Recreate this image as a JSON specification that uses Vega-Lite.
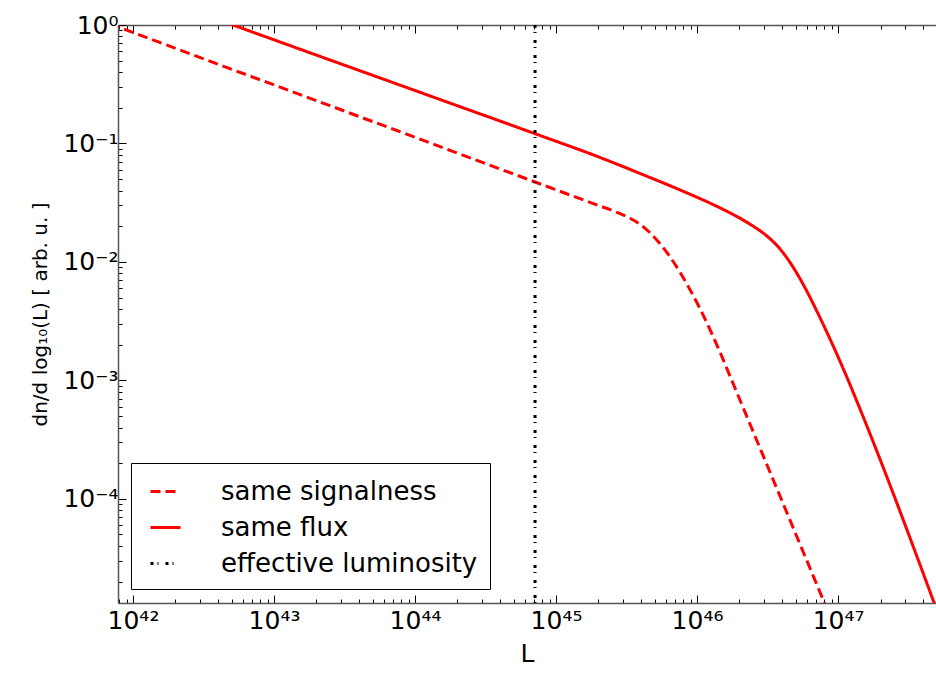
{
  "$schema": "https://vega.github.io/schema/vega-lite/v6.json",
  "width": 818,
  "height": 578,
  "autosize": {"type": "none"},
  "padding": {"left": 118, "top": 25, "right": 0, "bottom": 70},
  "background": "white",
  "config": {
    "view": {"stroke": null},
    "font": "DejaVu Sans",
    "legend": {
      "orient": "none",
      "legendX": 13,
      "legendY": 438,
      "labelFontSize": 26,
      "labelFont": "DejaVu Sans",
      "labelColor": "black",
      "labelLimit": 600,
      "symbolType": "stroke",
      "symbolSize": 900,
      "symbolStrokeWidth": 3,
      "symbolOffset": 6,
      "strokeColor": "black",
      "fillColor": "white",
      "padding": 12,
      "rowPadding": 6,
      "labelOffset": 39,
      "cornerRadius": 0
    }
  },
  "datasets": {
    "curves": [
      {"series": "same signalness", "L": 6.87e41, "dndl": 1.022},
      {"series": "same signalness", "L": 8.22e41, "dndl": 0.943},
      {"series": "same signalness", "L": 2.495e43, "dndl": 0.2084},
      {"series": "same signalness", "L": 1.77e44, "dndl": 0.0875},
      {"series": "same signalness", "L": 7.10e44, "dndl": 0.0473},
      {"series": "same signalness", "L": 1.742e45, "dndl": 0.03177},
      {"series": "same signalness", "L": 2.708e45, "dndl": 0.02616},
      {"series": "same signalness", "L": 3.348e45, "dndl": 0.02335},
      {"series": "same signalness", "L": 3.943e45, "dndl": 0.02078},
      {"series": "same signalness", "L": 4.642e45, "dndl": 0.01762},
      {"series": "same signalness", "L": 5.465e45, "dndl": 0.01423},
      {"series": "same signalness", "L": 6.434e45, "dndl": 0.01105},
      {"series": "same signalness", "L": 7.575e45, "dndl": 0.008176},
      {"series": "same signalness", "L": 8.920e45, "dndl": 0.005821},
      {"series": "same signalness", "L": 1.0503e46, "dndl": 0.004023},
      {"series": "same signalness", "L": 1.2366e46, "dndl": 0.002675},
      {"series": "same signalness", "L": 1.456e46, "dndl": 0.001728},
      {"series": "same signalness", "L": 1.714e46, "dndl": 0.001084},
      {"series": "same signalness", "L": 2.797e46, "dndl": 0.0002676},
      {"series": "same signalness", "L": 8.22e46, "dndl": 0.00001227},
      {"series": "same flux", "L": 4.14e42, "dndl": 1.096},
      {"series": "same flux", "L": 5.12e42, "dndl": 1.0},
      {"series": "same flux", "L": 1.503e44, "dndl": 0.2351},
      {"series": "same flux", "L": 7.453e44, "dndl": 0.1184},
      {"series": "same flux", "L": 2.052e45, "dndl": 0.07616},
      {"series": "same flux", "L": 3.943e45, "dndl": 0.05582},
      {"series": "same flux", "L": 7.575e45, "dndl": 0.04050},
      {"series": "same flux", "L": 9.678e45, "dndl": 0.03573},
      {"series": "same flux", "L": 1.2366e46, "dndl": 0.03134},
      {"series": "same flux", "L": 1.580e46, "dndl": 0.02724},
      {"series": "same flux", "L": 2.018e46, "dndl": 0.02335},
      {"series": "same flux", "L": 2.496e46, "dndl": 0.02007},
      {"series": "same flux", "L": 3.137e46, "dndl": 0.01651},
      {"series": "same flux", "L": 3.694e46, "dndl": 0.01373},
      {"series": "same flux", "L": 4.348e46, "dndl": 0.01077},
      {"series": "same flux", "L": 5.121e46, "dndl": 0.007963},
      {"series": "same flux", "L": 6.028e46, "dndl": 0.005616},
      {"series": "same flux", "L": 7.098e46, "dndl": 0.003807},
      {"series": "same flux", "L": 8.356e46, "dndl": 0.002531},
      {"series": "same flux", "L": 9.838e46, "dndl": 0.001651},
      {"series": "same flux", "L": 1.1582e47, "dndl": 0.001056},
      {"series": "same flux", "L": 1.364e47, "dndl": 0.0006598},
      {"series": "same flux", "L": 5.289e47, "dndl": 0.00000971}
    ],
    "marker": [
      {"series": "effective luminosity", "L": 7.1e44}
    ]
  },
  "layer": [
    {
      "data": {"name": "curves"},
      "mark": {"type": "line", "strokeWidth": 3, "clip": true, "interpolate": "monotone"},
      "encoding": {
        "x": {
          "field": "L", "type": "quantitative",
          "scale": {"type": "log", "domain": [7.83e41, 4.95e47], "nice": false, "zero": false},
          "axis": {
            "orient": "bottom",
            "values": [8e41, 9e41, 1e42, 2e42, 3e42, 4e42, 5e42, 6e42, 7e42, 8e42, 9e42, 1e43, 2e43, 3e43, 4e43, 5e43, 6e43, 7e43, 8e43, 9e43, 1e44, 2e44, 3e44, 4e44, 5e44, 6e44, 7e44, 8e44, 9e44, 1e45, 2e45, 3e45, 4e45, 5e45, 6e45, 7e45, 8e45, 9e45, 1e46, 2e46, 3e46, 4e46, 5e46, 6e46, 7e46, 8e46, 9e46, 1e47, 2e47, 3e47, 4e47],
            "labelExpr": "abs(log(datum.value)/LN10 - round(log(datum.value)/LN10)) > 0.01 ? '' : ['10⁴²','10⁴³','10⁴⁴','10⁴⁵','10⁴⁶','10⁴⁷'][round(log(datum.value)/LN10) - 42]",
            "tickSize": {"condition": {"test": "abs(log(datum.value)/LN10 - round(log(datum.value)/LN10)) < 0.01", "value": -8}, "value": -4},
            "tickColor": "black",
            "tickWidth": 1,
            "domainColor": "#555555",
            "domainWidth": 1.5,
            "labelFontSize": 25,
            "labelColor": "black",
            "labelPadding": 13,
            "labelOverlap": false,
            "labelFlush": false,
            "grid": false,
            "title": "L",
            "titleFontSize": 25,
            "titleFontWeight": "normal",
            "titleColor": "black",
            "titlePadding": 4
          }
        },
        "y": {
          "field": "dndl", "type": "quantitative",
          "scale": {"type": "log", "domain": [1.32e-5, 1], "nice": false, "zero": false},
          "axis": {
            "orient": "left",
            "values": [2e-5, 3e-5, 4e-5, 5e-5, 6e-5, 7e-5, 8e-5, 9e-5, 1e-4, 2e-4, 3e-4, 4e-4, 5e-4, 6e-4, 7e-4, 8e-4, 9e-4, 1e-3, 2e-3, 3e-3, 4e-3, 5e-3, 6e-3, 7e-3, 8e-3, 9e-3, 1e-2, 2e-2, 3e-2, 4e-2, 5e-2, 6e-2, 7e-2, 8e-2, 9e-2, 0.1, 0.2, 0.3, 0.4, 0.5, 0.6, 0.7, 0.8, 0.9, 1],
            "labelExpr": "abs(log(datum.value)/LN10 - round(log(datum.value)/LN10)) > 0.01 ? '' : ['10⁻⁴','10⁻³','10⁻²','10⁻¹','10⁰'][round(log(datum.value)/LN10) + 4]",
            "tickSize": {"condition": {"test": "abs(log(datum.value)/LN10 - round(log(datum.value)/LN10)) < 0.01", "value": -8}, "value": -4},
            "tickColor": "black",
            "tickWidth": 1,
            "domainColor": "#555555",
            "domainWidth": 1.5,
            "labelFontSize": 25,
            "labelColor": "black",
            "labelPadding": 8,
            "labelOverlap": false,
            "labelFlush": false,
            "grid": false,
            "title": "dn/d log₁₀(L)  [ arb. u. ]",
            "titleFontSize": 20,
            "titleFontWeight": "normal",
            "titleColor": "black",
            "titleX": -78,
            "titleY": 289,
            "titleAngle": -90,
            "titleAlign": "center",
            "titleBaseline": "middle"
          }
        },
        "color": {
          "field": "series", "type": "nominal",
          "scale": {"domain": ["same signalness", "same flux", "effective luminosity"], "range": ["#ff0000", "#ff0000", "#000000"]},
          "legend": {"title": null}
        },
        "strokeDash": {
          "field": "series", "type": "nominal",
          "scale": {"domain": ["same signalness", "same flux", "effective luminosity"], "range": [[10, 5], [1, 0], [3, 4, 1, 7]]},
          "legend": {"title": null}
        }
      }
    },
    {
      "data": {"name": "marker"},
      "mark": {"type": "rule", "strokeWidth": 3},
      "encoding": {
        "x": {
          "field": "L", "type": "quantitative",
          "axis": {
            "orient": "top",
            "values": [8e41, 9e41, 1e42, 2e42, 3e42, 4e42, 5e42, 6e42, 7e42, 8e42, 9e42, 1e43, 2e43, 3e43, 4e43, 5e43, 6e43, 7e43, 8e43, 9e43, 1e44, 2e44, 3e44, 4e44, 5e44, 6e44, 7e44, 8e44, 9e44, 1e45, 2e45, 3e45, 4e45, 5e45, 6e45, 7e45, 8e45, 9e45, 1e46, 2e46, 3e46, 4e46, 5e46, 6e46, 7e46, 8e46, 9e46, 1e47, 2e47, 3e47, 4e47],
            "labels": false,
            "tickSize": {"condition": {"test": "abs(log(datum.value)/LN10 - round(log(datum.value)/LN10)) < 0.01", "value": -8}, "value": -4},
            "tickColor": "black",
            "tickWidth": 1,
            "domainColor": "#555555",
            "domainWidth": 1.5,
            "grid": false,
            "title": null
          }
        },
        "color": {"field": "series", "type": "nominal", "legend": {"title": null}},
        "strokeDash": {"field": "series", "type": "nominal", "legend": {"title": null}}
      }
    }
  ]
}
